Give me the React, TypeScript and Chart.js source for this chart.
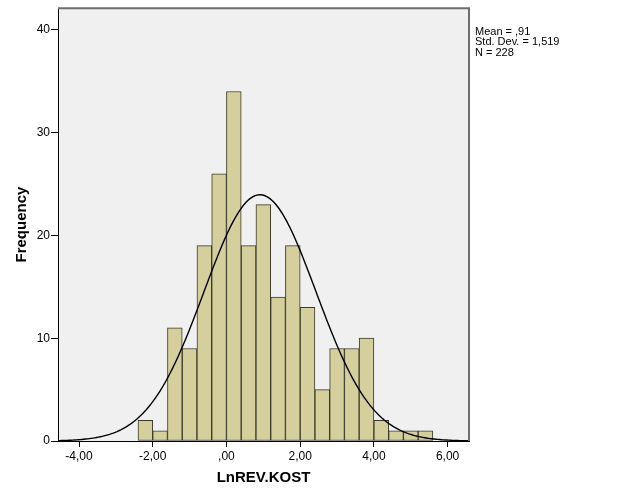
import React, { useEffect, useRef } from "react";
import { Chart, registerables } from "chart.js";

Chart.register(...registerables);

// Histogram bins (lower edges) and frequencies
const binStarts = [-2.4, -2.0, -1.6, -1.2, -0.8, -0.4, 0.0, 0.4, 0.8, 1.2, 1.6, 2.0, 2.4, 2.8, 3.2, 3.6, 4.0, 4.4, 4.8, 5.2];
const frequencies = [2, 1, 11, 9, 19, 26, 34, 19, 23, 14, 19, 13, 5, 9, 9, 10, 2, 1, 1, 1];
const binWidth = 0.4;

// Summary statistics shown in the legend
const statMean = 0.91;
const statSd = 1.519;
const statN = 228;
const statLines = ["Mean = ,91", "Std. Dev. = 1,519", "N = 228"];

// Axes
const xTickValues = [-4, -2, 0, 2, 4, 6];
const xTickLabels = ["-4,00", "-2,00", ",00", "2,00", "4,00", "6,00"];
const yTickValues = [0, 10, 20, 30, 40];
const xMin = -4.57;
const xMax = 6.58;
const yMax = 42.1;
const xTitle = "LnREV.KOST";
const yTitle = "Frequency";

const FONT = "'Liberation Sans', Arial, sans-serif";

export default function App() {
  const ref = useRef<HTMLCanvasElement | null>(null);

  useEffect(() => {
    if (!ref.current) return;

    const barData = binStarts.map((s, i) => ({ x: s + binWidth / 2, y: frequencies[i] }));
    const curve: { x: number; y: number }[] = [];
    const scaleK = (statN * binWidth) / (statSd * Math.sqrt(2 * Math.PI));
    for (let x = xMin; x <= xMax + 1e-9; x += 0.05) {
      const z = (x - statMean) / statSd;
      curve.push({ x, y: scaleK * Math.exp(-0.5 * z * z) });
    }

    const framePlugin = {
      id: "frame",
      beforeDraw(chart: any) {
        const { ctx, chartArea: a } = chart;
        ctx.save();
        ctx.fillStyle = "#f0f0f0";
        ctx.fillRect(a.left, a.top, a.right - a.left, a.bottom - a.top);
        ctx.restore();
      },
      afterDraw(chart: any) {
        const { ctx, chartArea: a } = chart;
        ctx.save();
        ctx.strokeStyle = "#6e6e6e";
        ctx.lineWidth = 2;
        ctx.beginPath();
        ctx.moveTo(a.left, a.top);
        ctx.lineTo(a.right, a.top);
        ctx.lineTo(a.right, a.bottom);
        ctx.stroke();
        ctx.fillStyle = "#000";
        ctx.font = `11px ${FONT}`;
        ctx.textAlign = "left";
        ctx.textBaseline = "middle";
        const ys = [31.5, 42, 52.5];
        statLines.forEach((t, i) => ctx.fillText(t, 475, ys[i]));
        ctx.restore();
      },
    };

    const chart = new Chart(ref.current, {
      type: "bar",
      data: {
        datasets: [
          {
            type: "line",
            data: curve,
            borderColor: "#000",
            borderWidth: 1.4,
            pointRadius: 0,
            tension: 0,
            order: 0,
          } as any,
          {
            type: "bar",
            data: barData,
            backgroundColor: "#d4cf9c",
            borderColor: "#3a3a28",
            borderWidth: 1,
            borderSkipped: false,
            barPercentage: 1,
            categoryPercentage: 1,
            grouped: false,
            order: 1,
          } as any,
        ],
      },
      options: {
        responsive: false,
        animation: false,
        devicePixelRatio: 1,
        layout: { padding: { top: 5, right: 157, left: 0, bottom: 0 } },
        plugins: { legend: { display: false }, tooltip: { enabled: false } },
        scales: {
          x: {
            type: "linear",
            min: xMin,
            max: xMax,
            offset: false,
            afterBuildTicks: (s: any) => {
              s.ticks = xTickValues.map((v) => ({ value: v }));
            },
            afterFit: (s: any) => {
              s.height = 60;
            },
            ticks: {
              color: "#000",
              font: { family: FONT, size: 12 },
              padding: 2,
              maxRotation: 0,
              autoSkip: false,
              callback: (v: any) => {
                const i = xTickValues.indexOf(Number(v));
                return i >= 0 ? xTickLabels[i] : "";
              },
            },
            grid: { display: true, offset: false, drawOnChartArea: false, drawTicks: true, tickLength: 6, color: "#000" },
            border: { display: true, color: "#000", width: 1 },
            title: {
              display: true,
              text: xTitle,
              color: "#000",
              font: { family: FONT, size: 15, weight: "bold" },
              padding: { top: 0, bottom: 14 },
            },
          },
          y: {
            type: "linear",
            min: 0,
            max: yMax,
            afterBuildTicks: (s: any) => {
              s.ticks = yTickValues.map((v) => ({ value: v }));
            },
            afterFit: (s: any) => {
              s.width = 58;
            },
            ticks: {
              color: "#000",
              font: { family: FONT, size: 12 },
              padding: 1,
              callback: (v: any) => String(v),
            },
            grid: { display: true, drawOnChartArea: false, drawTicks: true, tickLength: 7, color: "#000" },
            border: { display: true, color: "#000", width: 1 },
            title: {
              display: true,
              text: yTitle,
              color: "#000",
              font: { family: FONT, size: 15, weight: "bold" },
              padding: { top: 13, bottom: 0 },
            },
          },
        },
      } as any,
      plugins: [framePlugin],
    });

    return () => chart.destroy();
  }, []);

  return (
    <div style={{ position: "fixed", left: 0, top: 0, width: 626, height: 501, background: "#fff" }}>
      <canvas ref={ref} width={626} height={501} style={{ display: "block" }} />
    </div>
  );
}
